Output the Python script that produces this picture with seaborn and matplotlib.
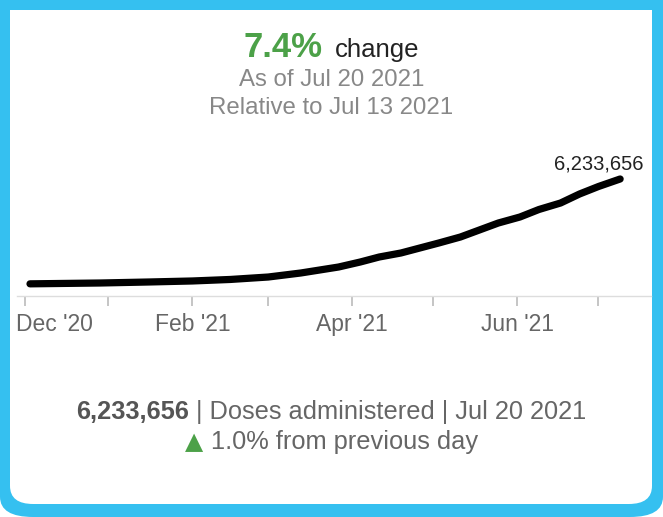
import matplotlib
matplotlib.use("Agg")
import matplotlib.pyplot as plt
from matplotlib.patches import FancyBboxPatch, Rectangle
import matplotlib.transforms as mtransforms
import seaborn as sns
import pandas as pd

# ---- data ----
dates = ["2020-12-14", "2021-01-09", "2021-01-27", "2021-02-12", "2021-02-26",
         "2021-03-12", "2021-03-24", "2021-04-07", "2021-04-15", "2021-04-22",
         "2021-04-30", "2021-05-07", "2021-05-14", "2021-05-22", "2021-05-29",
         "2021-06-05", "2021-06-13", "2021-06-20", "2021-06-28", "2021-07-05",
         "2021-07-12", "2021-07-20"]
doses = [10000, 60000, 120000, 180000, 270000,
         415000, 653000, 1009000, 1306000, 1603000,
         1840000, 2137000, 2434000, 2790000, 3206000,
         3621000, 3978000, 4423000, 4809000, 5343000,
         5788000, 6233656]
tick_dates = ["2020-12-12", "2021-01-12", "2021-02-12", "2021-03-12",
              "2021-04-12", "2021-05-12", "2021-06-12", "2021-07-12"]
tick_labels = ["Dec '20", "", "Feb '21", "", "Apr '21", "", "Jun '21", ""]
headline_value = "7.4%"
headline_word = "change"
as_of = "As of Jul 20 2021"
relative_to = "Relative to Jul 13 2021"
latest_label = "6,233,656"
footer_bold = "6,233,656"
footer_rest = " | Doses administered | Jul 20 2021"
footer_change = "1.0% from previous day"

df = pd.DataFrame({"date": pd.to_datetime(dates), "doses": doses})

sns.set_style("white")
plt.rcParams["font.family"] = ["Liberation Sans", "DejaVu Sans"]

W, H = 663, 517
fig = plt.figure(figsize=(W / 100, H / 100), dpi=100)
fig.patch.set_facecolor("white")

def fx(px):
    return px / W

def fy(py):
    return 1 - py / H

BLUE = "#35C0F0"
outer = FancyBboxPatch((fx(0), fy(517)), fx(663), 600 / H,
                       boxstyle="round,pad=0,rounding_size=0.05",
                       transform=fig.transFigure, facecolor=BLUE, edgecolor="none",
                       mutation_aspect=H / W, zorder=0)
fig.patches.append(outer)
inner = FancyBboxPatch((fx(10), fy(504)), fx(642), (504 - 10) / H,
                       boxstyle="round,pad=0,rounding_size=0.035",
                       transform=fig.transFigure, facecolor="white", edgecolor="none",
                       zorder=1)
fig.patches.append(inner)
fig.patches.append(Rectangle((fx(10), fy(300)), fx(642), (300 - 10) / H,
                             transform=fig.transFigure, facecolor="white",
                             edgecolor="none", zorder=1))

# ---- axes ----
ax_left, ax_right = 17, 651
ax_top, ax_bottom = 150, 296
ax = fig.add_axes([fx(ax_left), fy(ax_bottom), fx(ax_right - ax_left),
                   (ax_bottom - ax_top) / H])
ax.set_facecolor("none")
ax.set_zorder(3)

sns.lineplot(data=df, x="date", y="doses", ax=ax, color="black", linewidth=5.2,
             solid_capstyle="round", solid_joinstyle="round")

x0 = df["date"].iloc[0] - pd.Timedelta(days=4.8)
x1 = df["date"].iloc[-1] + pd.Timedelta(days=11.4)
ax.set_xlim(x0, x1)
ax.set_ylim(-712000, 7955000)

for s in ["top", "left", "right"]:
    ax.spines[s].set_visible(False)
ax.spines["bottom"].set_color("#dddddd")
ax.spines["bottom"].set_linewidth(1.0)
ax.set_yticks([])
ax.set_xlabel("")
ax.set_ylabel("")
ax.set_xticks(pd.to_datetime(tick_dates))
ax.set_xticklabels(tick_labels)
ax.tick_params(axis="x", bottom=True, direction="out", length=7, width=1.2,
               color="#bbbbbb", pad=5, labelsize=16.5, labelcolor="#666666")
for i, lab in enumerate(ax.get_xticklabels()):
    if i == 0:
        lab.set_horizontalalignment("left")
        lab.set_transform(lab.get_transform() +
                          mtransforms.ScaledTranslation(-9 / 100, 0, fig.dpi_scale_trans))

ax.annotate(latest_label, xy=(df["date"].iloc[-1], df["doses"].iloc[-1]),
            xytext=(16.5, 4), textcoords="offset points", ha="right", va="bottom",
            fontsize=14.5, color="#222222")

# ---- texts ----
GREEN = "#4CA148"
renderer = fig.canvas.get_renderer()

def pair(y, a, b, ka, kb, gap=0):
    t1 = fig.text(0, fy(y), a, **ka)
    t2 = fig.text(0, fy(y), b, **kb)
    w1 = t1.get_window_extent(renderer).width
    w2 = t2.get_window_extent(renderer).width
    start = (W - (w1 + gap + w2)) / 2
    t1.set_x(fx(start))
    t2.set_x(fx(start + w1 + gap))

pair(57, headline_value, headline_word,
     dict(fontsize=25, fontweight="bold", color=GREEN, ha="left", va="baseline", zorder=5),
     dict(fontsize=18.5, color="#222222", ha="left", va="baseline", zorder=5), gap=12)

fig.text(0.5, fy(80), as_of, ha="center", va="center", fontsize=17.3, color="#888888")
fig.text(0.5, fy(108), relative_to, ha="center", va="center", fontsize=17.3, color="#888888")

pair(419, footer_bold, footer_rest,
     dict(fontsize=18.3, fontweight="bold", color="#555555", ha="left", va="baseline"),
     dict(fontsize=18.3, color="#666666", ha="left", va="baseline"))

pair(449, "\u25B2", " " + footer_change,
     dict(fontsize=17, color=GREEN, ha="left", va="baseline",
          family=["DejaVu Sans"]),
     dict(fontsize=18.3, color="#666666", ha="left", va="baseline"))

fig.savefig("out.png", dpi=100)
